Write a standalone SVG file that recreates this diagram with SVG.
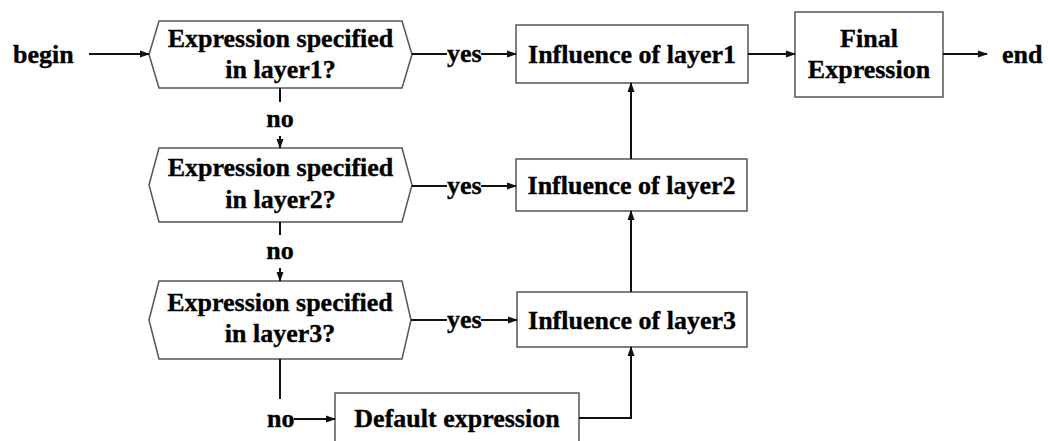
<svg xmlns="http://www.w3.org/2000/svg" width="1048" height="441" viewBox="0 0 1048 441">
<style>
text{font-family:"Liberation Serif","Times New Roman",serif;font-weight:bold;font-size:26px;fill:#000;stroke:#000;stroke-width:0.35}
.c{text-anchor:middle}
.box{fill:#fff;stroke:#555;stroke-width:1.5}
.ln{fill:none;stroke:#111;stroke-width:2}
.ar{fill:none;stroke:#111;stroke-width:2;marker-end:url(#ah)}
</style>
<defs>
<marker id="ah" markerWidth="10" markerHeight="8" refX="9" refY="4" orient="auto" markerUnits="userSpaceOnUse">
<path d="M0,0.5 L10,4 L0,7.5 Z" fill="#111"/>
</marker>
</defs>
<rect width="1048" height="441" fill="#fff"/>
<g id="begin"><text x="13" y="63">begin</text></g>
<g id="end"><text x="1002" y="63">end</text></g>
<g id="q1">
<polygon class="box" points="149,54.5 159,21 402,21 412,54.5 402,88 159,88"/>
<text class="c" x="280.5" y="47">Expression specified</text>
<text class="c" x="280.5" y="78">in layer1?</text>
</g>
<g id="q2">
<polygon class="box" points="149,185 159,148 402,148 412,185 402,222 159,222"/>
<text class="c" x="280.5" y="176">Expression specified</text>
<text class="c" x="280.5" y="208">in layer2?</text>
</g>
<g id="q3">
<polygon class="box" points="149,320 159,281 402,281 411,320 402,359 159,359"/>
<text class="c" x="280" y="311">Expression specified</text>
<text class="c" x="280" y="342">in layer3?</text>
</g>
<g id="inf1">
<rect class="box" x="516" y="25" width="232" height="58"/>
<text class="c" x="632" y="63">Influence of layer1</text>
</g>
<g id="inf2">
<rect class="box" x="516" y="159" width="231" height="52"/>
<text class="c" x="631.5" y="194">Influence of layer2</text>
</g>
<g id="inf3">
<rect class="box" x="517" y="292" width="230" height="55"/>
<text class="c" x="632" y="329">Influence of layer3</text>
</g>
<g id="final">
<rect class="box" x="795" y="12" width="148" height="85"/>
<text class="c" x="869" y="47">Final</text>
<text class="c" x="869" y="78">Expression</text>
</g>
<g id="default">
<rect class="box" x="335" y="393" width="244" height="55"/>
<text class="c" x="457" y="427">Default expression</text>
</g>
<g id="connectors">
<line class="ar" x1="89" y1="54" x2="149" y2="54"/>
<line class="ln" x1="412" y1="54" x2="447" y2="54"/>
<text x="447" y="62">yes</text>
<line class="ar" x1="481" y1="54" x2="516" y2="54"/>
<line class="ar" x1="748" y1="54" x2="795" y2="54"/>
<line class="ar" x1="943" y1="54" x2="987" y2="54"/>
<line class="ln" x1="412" y1="186" x2="447" y2="186"/>
<text x="447" y="194">yes</text>
<line class="ar" x1="481" y1="186" x2="516" y2="186"/>
<line class="ln" x1="411" y1="320" x2="447" y2="320"/>
<text x="447" y="328">yes</text>
<line class="ar" x1="481" y1="320" x2="517" y2="320"/>
<line class="ln" x1="280" y1="88" x2="280" y2="102"/>
<text class="c" x="280" y="127">no</text>
<line class="ar" x1="280" y1="136" x2="280" y2="148"/>
<line class="ln" x1="280" y1="222" x2="280" y2="235"/>
<text class="c" x="280" y="259">no</text>
<line class="ar" x1="280" y1="268" x2="280" y2="281"/>
<line class="ln" x1="280" y1="359" x2="280" y2="399"/>
<text x="267" y="427">no</text>
<line class="ar" x1="294" y1="419" x2="335" y2="419"/>
<polyline class="ar" points="579,418 631,418 631,347"/>
<line class="ar" x1="631" y1="292" x2="631" y2="211"/>
<line class="ar" x1="631" y1="159" x2="631" y2="83"/>
</g>
</svg>
